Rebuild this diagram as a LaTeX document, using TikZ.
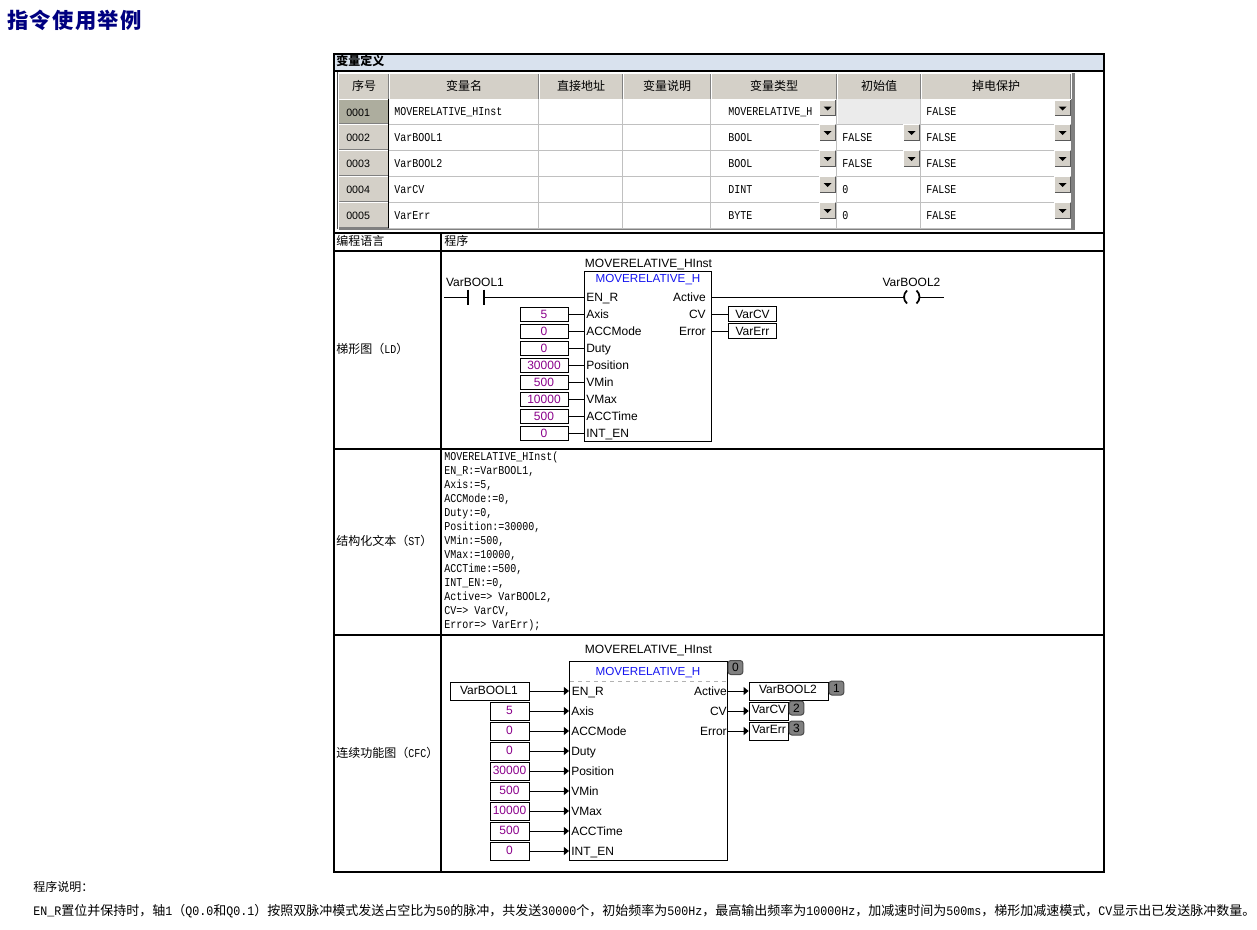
\documentclass[tikz,border=0pt]{standalone}
\usepackage{fontspec}
\setmainfont{Liberation Sans}
\newfontfamily\cjkf{Noto Sans CJK SC}
\newfontfamily\monof[FakeStretch=0.8333]{Liberation Mono}
\newfontfamily\monog[FakeStretch=0.8974]{Liberation Mono}
\usetikzlibrary{arrows.meta}
\definecolor{hdr}{HTML}{D4D0C8}
\definecolor{band}{HTML}{D9E2EE}
\definecolor{sel}{HTML}{ADAD9E}
\definecolor{gridc}{HTML}{C0C0C0}
\definecolor{shdw}{HTML}{808080}
\definecolor{val}{HTML}{8B008B}
\definecolor{fbname}{HTML}{1414F0}
\definecolor{navy2}{HTML}{000080}
\newcommand\M[1]{{\monof\fontsize{9pt}{9pt}\selectfont #1}}
\newcommand\G[1]{{\monog\fontsize{9.75pt}{9.75pt}\selectfont #1}}
\tikzset{
  x=0.75pt,y=-0.75pt,
  px/.style={line width=0.75pt},
  frame/.style={line width=1.5pt},
  zh/.style={inner sep=0,font=\cjkf\fontsize{9pt}{9pt}\selectfont,text height=6.6pt,text depth=0.6pt},
  mo/.style={inner sep=0,anchor=west,font=\monof\fontsize{9pt}{9pt}\selectfont,text height=6pt,text depth=0.75pt},
  ar/.style={inner sep=0,font=\fontsize{9pt}{9pt}\selectfont,text height=6.45pt,text depth=0pt},
  fbn/.style={ar,text=fbname,font=\fontsize{8.75pt}{9pt}\selectfont},
  idx/.style={inner sep=0,font=\fontsize{8pt}{8pt}\selectfont,text height=5.8pt,text depth=0pt},
  ldval/.style={ar,draw,px,text=val,minimum width=36pt,minimum height=10.5pt},
  ldvar/.style={ar,draw,px,minimum width=36pt,minimum height=11pt},
  cfcval/.style={ar,draw,px,text=val,minimum width=29.6pt,minimum height=13.5pt},
  badge/.style={ar,draw=black!70,px,fill=shdw,rounded corners=2pt,minimum width=11pt,minimum height=10.5pt},
  ddbtn/.style={fill=hdr,inner sep=0,minimum width=11.25pt,minimum height=11.25pt},
  flow/.style={px,-{Triangle[length=3.8pt,width=6pt]}},
}
\begin{document}
\begin{tikzpicture}
\useasboundingbox (0,0) rectangle (1257,929);
\fill[white] (0,0) rectangle (1257,929);

% title
\node[anchor=west,inner sep=0,text=navy2,font=\cjkf\bfseries\fontsize{16pt}{16pt}\selectfont\addfontfeature{LetterSpace=6}] (title) at (7,20) {指令使用举例};

% variable-definition band
\fill[band] (334,54) rectangle (1104,71);
\node[zh,anchor=west,font=\cjkf\bfseries\fontsize{9pt}{9pt}\selectfont] (vardef) at (336,61.5) {变量定义};

% variable table: header cells
\fill[hdr] (339,73) rectangle (1071,98.5);
\fill[white] (339,98.5) rectangle (1071,228);
\fill[shdw] (1071,73) rectangle (1075,230);
\fill[shdw] (339,228) rectangle (1075,230);
\foreach \xa/\xb/\t/\n in {339/389/序号/h1,389/539/变量名/h2,539/623/直接地址/h3,623/711/变量说明/h4,711/837/变量类型/h5,837/921/初始值/h6,921/1071/掉电保护/h7}{
  \draw[shdw,px] (\xb-1,73) -- (\xb-1,98.5);
  \draw[white,px] (\xb,73) -- (\xb,98.5);
  \node[zh] (\n) at ({(\xa+\xb)/2},86) {\t};
}
\draw[white,px] (339,73) -- (1071,73);
% first column and grid
\fill[black!8] (837.5,99) rectangle (920.5,123.5);
\foreach \ya/\yb/\t/\n/\c in {98.5/124/0001/r1/sel,124/150/0002/r2/hdr,150/176/0003/r3/hdr,176/202/0004/r4/hdr,202/228/0005/r5/hdr}{
  \fill[\c] (339,\ya) rectangle (388,\yb);
  \draw[white,px] (339,\ya+.5) -- (388,\ya+.5);
  \draw[shdw,px] (339,\yb-.5) -- (388,\yb-.5);
  \draw[gridc,px] (389,\yb) -- (1071,\yb);
  \node[idx,anchor=west] (\n) at (346,{(\ya+\yb)/2+1}) {\t};
}
\foreach \x in {539,623,711,837,921}{\draw[gridc,px] (\x-.5,98.5) -- (\x-.5,228);}
\draw[black,px] (388.5,98.5) -- (388.5,228);
\draw[black!70,px] (337.5,72) -- (337.5,229);

% table texts
\foreach \y/\t/\n in {112/MOVERELATIVE\_HInst/a1,138/VarBOOL1/a2,164/VarBOOL2/a3,190/VarCV/a4,216/VarErr/a5}{\node[mo] (\n) at (394,\y) {\t};}
\foreach \y/\t/\n in {112/MOVERELATIVE\_H/b1,138/BOOL/b2,164/BOOL/b3,190/DINT/b4,216/BYTE/b5}{\node[mo] (\n) at (728,\y) {\t};}
\foreach \y/\t/\n in {138/FALSE/c2,164/FALSE/c3,190/0/c4,216/0/c5}{\node[mo] (\n) at (842,\y) {\t};}
\foreach \y/\n in {112/d1,138/d2,164/d3,190/d4,216/d5}{\node[mo] (\n) at (926,\y) {FALSE};}

% drop-down buttons
\foreach \x/\y/\n in {827.5/108/e1,827.5/132.5/e2,827.5/158.5/e3,827.5/184.5/e4,827.5/210.5/e5,
  911.5/132.5/f2,911.5/158.5/f3,
  1062.5/108/g1,1062.5/132.5/g2,1062.5/158.5/g3,1062.5/184.5/g4,1062.5/210.5/g5}{
  \node[ddbtn] (\n) at (\x,\y) {};
  \draw[white,px] (\n.south west) -- (\n.north west) -- (\n.north east);
  \draw[black!65,px] (\n.north east) -- (\n.south east) -- (\n.south west);
  \fill[black] ([shift={(-4,-1.5)}]\n.center) -- ([shift={(4,-1.5)}]\n.center) -- ([shift={(0,2.5)}]\n.center) -- cycle;
}

% outer grid
\draw[frame] (334,53.5) rectangle (1104,872);
\draw[frame] (334,71) -- (1104,71);
\draw[frame] (334,233) -- (1104,233);
\draw[frame] (334,251) -- (1104,251);
\draw[frame] (334,449) -- (1104,449);
\draw[frame] (334,635) -- (1104,635);
\draw[frame] (441,233) -- (441,872);

% row labels
\node[zh,anchor=west] (lang) at (336,241.5) {编程语言};
\node[zh,anchor=west] (prog) at (444,241.5) {程序};
\node[zh,anchor=west] (ldl) at (336,349) {梯形图（\M{LD}）};
\node[zh,anchor=west] (stl) at (336,541) {结构化文本（\M{ST}）};
\node[zh,anchor=west] (cfcl) at (336,753) {连续功能图（\M{CFC}）};

% ---------- LD ----------
\node[draw,px,inner sep=0,minimum width=95.25pt,minimum height=127.5pt] (ldbox) at (647.5,356) {};
\node[ar] (ldinst) at (648.5,263) {MOVERELATIVE\_HInst};
\node[fbn] (ldfb) at (648,278) {MOVERELATIVE\_H};
\node[ar] (ldin1) at (475,282) {VarBOOL1};
\node[ar,anchor=west] (ldp0) at (586,297) {EN\_R};
\coordinate (cstart) at (444,297);
\coordinate (ca) at (468,297);
\coordinate (cb) at (484,297);
\draw[px] (cstart) -- (ca);
\draw[line width=1.1pt] (468,289.5) -- (468,305);
\draw[line width=1.1pt] (484,289.5) -- (484,305);
\draw[px] (cb) -- (ldbox.west |- cb);
\foreach \y/\v/\p/\n in {314/5/Axis/1,331/0/ACCMode/2,348/0/Duty/3,365/30000/Position/4,382/500/VMin/5,399/10000/VMax/6,416/500/ACCTime/7,433/0/INT\_EN/8}{
  \node[ldval] (lv\n) at (544,\y) {\v};
  \node[ar,anchor=west] (ldp\n) at (586,\y) {\p};
  \draw[px] (lv\n.east) -- (lv\n.east -| ldbox.west);
}
\node[ar,anchor=east] (ldo1) at (706,297) {Active};
\node[ar,anchor=east] (ldo2) at (706,314) {CV};
\node[ar,anchor=east] (ldo3) at (706,331) {Error};
\node[ldvar] (ldcv) at (752.5,314) {VarCV};
\node[ldvar] (lderr) at (752.5,331) {VarErr};
\draw[px] (ldbox.east |- ldcv) -- (ldcv.west);
\draw[px] (ldbox.east |- lderr) -- (lderr.west);
\node[ar] (ldcoil) at (911.5,282) {VarBOOL2};
\coordinate (cl) at (904,297);
\coordinate (cr) at (920,297);
\coordinate (cend) at (944,297);
\draw[px] (ldbox.east |- cl) -- (cl);
\draw[px] (cr) -- (cend);
\draw[line width=1.3pt] (907,290.5) .. controls (903,294) and (903,300) .. (907,303.5);
\draw[line width=1.3pt] (916.5,290.5) .. controls (920.5,294) and (920.5,300) .. (916.5,303.5);

% ---------- ST ----------
\foreach \y/\t/\n in {457/{MOVERELATIVE\_HInst(}/1,471/{EN\_R:=VarBOOL1,}/2,485/{Axis:=5,}/3,499/{ACCMode:=0,}/4,513/{Duty:=0,}/5,527/{Position:=30000,}/6,541/{VMin:=500,}/7,555/{VMax:=10000,}/8,569/{ACCTime:=500,}/9,583/{INT\_EN:=0,}/10,597/{Active=> VarBOOL2,}/11,611/{CV=> VarCV,}/12,625/{Error=> VarErr);}/13}{
  \node[mo] (st\n) at (444,\y) {\t};
}

% ---------- CFC ----------
\node[draw,px,inner sep=0,minimum width=118.5pt,minimum height=149pt] (cfcbox) at (648.5,760.75) {};
\draw[black!30,px,dashed] (570,681.5) -- (727,681.5);
\node[ar] (cfcinst) at (648.5,649) {MOVERELATIVE\_HInst};
\node[fbn] (cfcfb) at (648,671) {MOVERELATIVE\_H};
\node[ar,draw,px,minimum width=59.5pt,minimum height=13.5pt] (cv0) at (490,691) {};
\node[ar] (ct0) at (489,690) {VarBOOL1};
\node[ar,anchor=west] (cp0) at (571.5,691) {EN\_R};
\draw[flow] (cv0.east) -- (cv0.east -| cfcbox.west);
\foreach \y/\v/\p/\n in {711/5/Axis/1,731/0/ACCMode/2,751/0/Duty/3,771/30000/Position/4,791/500/VMin/5,811/10000/VMax/6,831/500/ACCTime/7,851/0/INT\_EN/8}{
  \node[cfcval] (cv\n) at (510,\y) {};
  \node[ar,text=val] (ct\n) at (509.5,\y-1) {\v};
  \node[ar,anchor=west] (cp\n) at (571,\y) {\p};
  \draw[flow] (cv\n.east) -- (cv\n.east -| cfcbox.west);
}
\node[ar,anchor=east] (co1) at (727,691) {Active};
\node[ar,anchor=east] (co2) at (727,711) {CV};
\node[ar,anchor=east] (co3) at (727,731) {Error};
\node[draw,px,inner sep=0,minimum width=59.5pt,minimum height=13.5pt] (cfo1) at (788.75,691) {};
\node[draw,px,inner sep=0,minimum width=29.6pt,minimum height=13.5pt] (cfo2) at (769,711) {};
\node[draw,px,inner sep=0,minimum width=29.6pt,minimum height=13.5pt] (cfo3) at (769,731) {};
\node[ar] (cft1) at (788,689.5) {VarBOOL2};
\node[ar] (cft2) at (769,709.5) {VarCV};
\node[ar] (cft3) at (769,729.5) {VarErr};
\draw[flow] (cfcbox.east |- cfo1) -- (cfo1.west);
\draw[flow] (cfcbox.east |- cfo2) -- (cfo2.west);
\draw[flow] (cfcbox.east |- cfo3) -- (cfo3.west);
\node[badge] (b0) at (735.5,667.5) {0};
\node[badge] (b1) at (836.5,688) {1};
\node[badge] (b2) at (796.5,708) {2};
\node[badge] (b3) at (796.5,728) {3};

% footer
\node[zh,anchor=west] (fn1) at (33,887) {程序说明：};
\node[zh,anchor=west,font=\cjkf\fontsize{9.75pt}{9.75pt}\selectfont] (fn2) at (33,911) {\G{EN\_R}置位并保持时，轴\G{1}（\G{Q0.0}和\G{Q0.1}）按照双脉冲模式发送占空比为\G{50}的脉冲，共发送\G{30000}个，初始频率为\G{500Hz}，最高输出频率为\G{10000Hz}，加减速时间为\G{500ms}，梯形加减速模式，\G{CV}显示出已发送脉冲数量。};
\end{tikzpicture}
\end{document}
